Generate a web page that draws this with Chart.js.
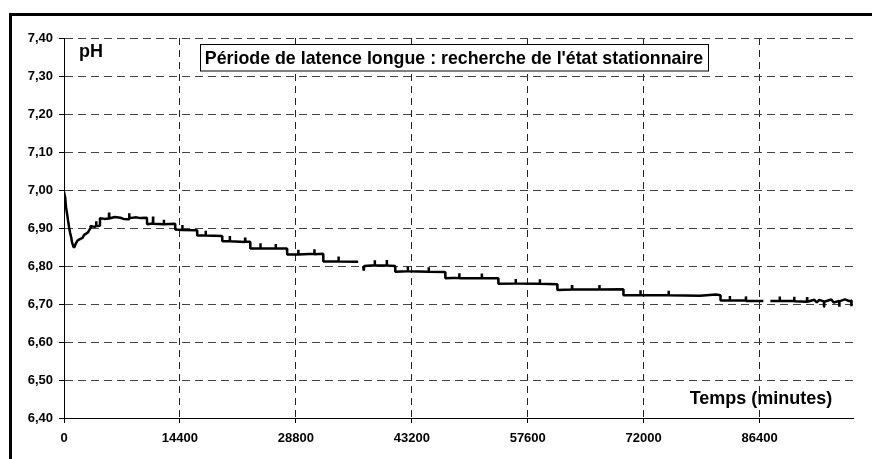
<!DOCTYPE html>
<html>
<head>
<meta charset="utf-8">
<script src="https://cdn.jsdelivr.net/npm/chart.js@4.4.1/dist/chart.umd.min.js"></script>
<style>
  html, body { margin: 0; padding: 0; background: #fff; }
  #wrap { width: 872px; height: 459px; }
</style>
</head>
<body>
<div id="wrap"><canvas id="c" width="872" height="459"></canvas></div>
<script>
// temps en minutes / pH
const times = [
  0, 150, 250, 400, 500, 650, 750, 900, 1000, 1150, 1250, 1400, 1500, 1650, 1750,
  2100, 2300, 2500, 2800, 3000, 3230, 3300, 3800, 3980, 4000, 4020, 4350, 4470,
  5000, 5580, 5600, 5620, 6300, 7000, 7400, 8080, 8100, 8120, 9000, 9500, 10300,
  10320, 11040, 11060, 11080, 12380, 12400, 12420, 13800,
  13820, 14680, 14700, 14720, 16530,
  16550, 17580, 17600, 17620, 19640,
  19660, 20580, 20600, 20620, 22480, 22500, 22520, 23120,
  23140, 24380, 24400, 24420, 26280, 26300, 26320, 27700,
  27720, 29080, 29100, 29120, 31080, 31100, 31120, 32190,
  32210, 34080, 34100, 34120, 36540, 36550,
  37160, 37230, 37300, 38580, 38600, 38620, 40080, 40100, 40120, 41130,
  41150, 42680, 42700, 42720, 45280, 45300, 45320, 47350,
  47370, 49080, 49100, 49120, 51880, 51900, 51920, 53940,
  53960, 56080, 56100, 56120, 59080, 59100, 59120, 61270,
  61290, 63080, 63100, 63120, 66480, 66500, 66520, 69470,
  69490, 71580, 71600, 71620, 75080, 75100, 75120, 79000, 81000, 81530,
  81550, 82680, 82700, 82720, 84680, 84700, 84720, 86870, 86880,
  87740, 88880, 88900, 88920, 90680, 90700, 90720, 92280, 92300, 92320,
  93200, 93500, 93800, 94380, 94400, 94420, 95300, 95600, 96280, 96300,
  96320, 97000, 97500, 97780, 97800, 97820, 97930
];
const ph = [
  6.995, 6.98, 6.955, 6.935, 6.92, 6.90, 6.888, 6.875, 6.862, 6.852, 6.848, 6.856, 6.86, 6.866, 6.868,
  6.872, 6.874, 6.882, 6.886, 6.889, 6.898, 6.905, 6.903, 6.905, 6.918, 6.905, 6.906, 6.926,
  6.924, 6.925, 6.941, 6.925, 6.929, 6.927, 6.924, 6.923, 6.939, 6.926, 6.928, 6.926, 6.927,
  6.91, 6.912, 6.93, 6.911, 6.91, 6.922, 6.91, 6.911,
  6.896, 6.895, 6.908, 6.895, 6.894,
  6.88, 6.881, 6.893, 6.88, 6.879,
  6.865, 6.866, 6.879, 6.865, 6.863, 6.875, 6.864, 6.864,
  6.846, 6.847, 6.86, 6.846, 6.846, 6.858, 6.846, 6.846,
  6.83, 6.831, 6.843, 6.83, 6.832, 6.844, 6.831, 6.832,
  6.812, 6.812, 6.825, 6.812, 6.811, null,
  6.80, 6.788, 6.80, 6.802, 6.815, 6.801, 6.802, 6.816, 6.801, 6.80,
  6.785, 6.786, 6.799, 6.786, 6.785, 6.797, 6.785, 6.784,
  6.768, 6.769, 6.781, 6.768, 6.768, 6.78, 6.768, 6.768,
  6.753, 6.754, 6.766, 6.754, 6.753, 6.765, 6.753, 6.752,
  6.737, 6.738, 6.75, 6.738, 6.738, 6.75, 6.738, 6.739,
  6.723, 6.724, 6.736, 6.723, 6.724, 6.735, 6.723, 6.722, 6.725, 6.723,
  6.709, 6.709, 6.721, 6.709, 6.709, 6.72, 6.708, 6.708, null,
  6.708, 6.708, 6.72, 6.708, 6.708, 6.719, 6.707, 6.706, 6.718, 6.706,
  6.711, 6.704, 6.711, 6.707, 6.693, 6.706, 6.712, 6.704, 6.708, 6.693,
  6.707, 6.712, 6.708, 6.708, 6.694, 6.708, 6.71
];
const xTicks = [0, 14400, 28800, 43200, 57600, 72000, 86400];
const yTicks = [6.4, 6.5, 6.6, 6.7, 6.8, 6.9, 7.0, 7.1, 7.2, 7.3, 7.4];
const titleText = "Période de latence longue : recherche de l'état stationnaire";
const yName = 'pH';
const xName = 'Temps (minutes)';

const points = times.map((t, i) => ({ x: t, y: ph[i] }));
const font = 'Liberation Sans, Arial, sans-serif';

const decor = {
  id: 'decor',
  beforeDraw(chart) {
    const ctx = chart.ctx;
    ctx.save();
    ctx.fillStyle = '#fff';
    ctx.fillRect(0, 0, chart.width, chart.height);
    ctx.restore();
  },
  afterDraw(chart) {
    const ctx = chart.ctx;
    const a = chart.chartArea;
    ctx.save();
    // cadre extérieur
    ctx.strokeStyle = '#000';
    ctx.lineWidth = 3;
    ctx.strokeRect(10.5, 14.5, 900, 500);

    ctx.fillStyle = '#000';
    ctx.font = 'bold 18px ' + font;
    ctx.textBaseline = 'alphabetic';
    ctx.textAlign = 'left';
    ctx.fillText(yName, a.left + 15, a.top + 19);
    ctx.textAlign = 'center';
    ctx.fillText(xName, a.left + 697, a.bottom - 14);

    // titre encadré
    ctx.font = 'bold 17.8px ' + font;
    const w = ctx.measureText(titleText).width;
    const cx = 454, top = 44.5, h = 26.5;
    ctx.fillStyle = '#fff';
    ctx.fillRect(cx - w / 2 - 5, top, w + 10, h);
    ctx.strokeStyle = '#000';
    ctx.lineWidth = 1;
    ctx.strokeRect(Math.round(cx - w / 2 - 5) + 0.5, top, Math.round(w + 10), h);
    ctx.fillStyle = '#000';
    ctx.textAlign = 'center';
    ctx.fillText(titleText, cx, 64);
    ctx.restore();
  }
};

new Chart(document.getElementById('c'), {
  type: 'line',
  data: {
    datasets: [{
      data: points,
      borderColor: '#000',
      borderWidth: 2.5,
      borderJoinStyle: 'bevel',
      pointRadius: 0,
      tension: 0,
      spanGaps: false
    }]
  },
  options: {
    responsive: false,
    animation: false,
    events: [],
    layout: { padding: { left: 0, right: 19, top: 38, bottom: 0 } },
    plugins: { legend: { display: false }, tooltip: { enabled: false } },
    scales: {
      x: {
        type: 'linear',
        min: 0,
        max: 98000,
        afterBuildTicks: s => { s.ticks = xTicks.map(v => ({ value: v })); },
        afterFit: s => { s.height = 41; },
        grid: {
          color: '#222',
          lineWidth: 1,
          tickLength: 5,
          tickColor: '#000',
          tickBorderDash: []
        },
        border: { display: true, color: '#000', width: 1, dash: [7, 5] },
        ticks: {
          color: '#000',
          padding: 8,
          maxRotation: 0,
          autoSkip: false,
          font: { family: font, size: 13, weight: 'bold' },
          callback: v => String(v)
        }
      },
      y: {
        min: 6.4,
        max: 7.4,
        afterBuildTicks: s => { s.ticks = yTicks.map(v => ({ value: v })); },
        afterFit: s => { s.width = 64; },
        grid: {
          color: '#444',
          lineWidth: 1,
          tickLength: 5,
          tickColor: '#000',
          tickBorderDash: []
        },
        border: { display: true, color: '#000', width: 1, dash: [8, 5] },
        ticks: {
          color: '#000',
          padding: 6,
          autoSkip: false,
          font: { family: font, size: 13, weight: 'bold' },
          callback: v => v.toFixed(2).replace('.', ',')
        }
      }
    }
  },
  plugins: [decor]
});
</script>
</body>
</html>
